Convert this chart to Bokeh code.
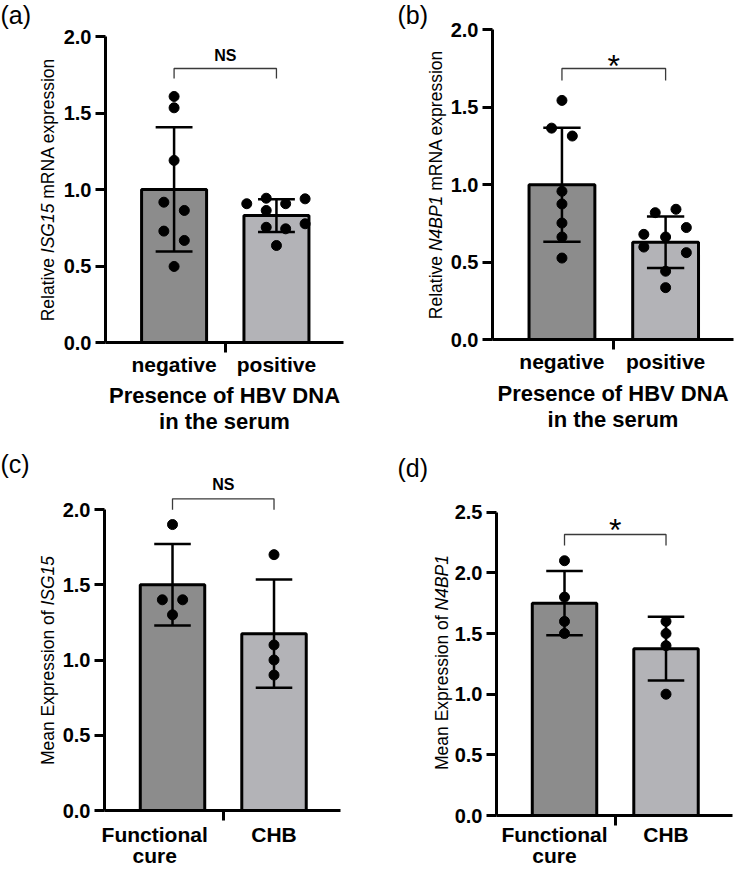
import numpy as np
from bokeh.plotting import figure
from bokeh.models import Range1d, FixedTicker, Label, NumeralTickFormatter, LinearAxis
from bokeh.layouts import column, row
from bokeh.embed import file_html
from bokeh.resources import INLINE

FONT = "Liberation Sans"

# ---------------- data ----------------
a_groups = ["negative", "positive"]
a_neg = [1.608, 1.534, 1.190, 0.917, 0.863, 0.728, 0.667, 0.497]
a_pos = [0.907, 0.943, 0.907, 0.939, 0.863, 0.753, 0.743, 0.776, 0.634]

b_groups = ["negative", "positive"]
b_neg = [1.544, 1.365, 1.314, 0.957, 0.875, 0.752, 0.662, 0.526]
b_pos = [0.819, 0.841, 0.723, 0.679, 0.662, 0.597, 0.561, 0.441, 0.335]

c_groups = ["Functional\ncure", "CHB"]
c_fc = [1.9, 1.4, 1.4, 1.3]
c_chb = [1.7, 1.1, 1.0, 0.9]

d_groups = ["Functional\ncure", "CHB"]
d_fc = [2.1, 1.8, 1.6, 1.5]
d_chb = [1.6, 1.5, 1.4, 1.0]

significance = ["NS", "*", "NS", "*"]
yticks_abc = [0.0, 0.5, 1.0, 1.5, 2.0]
yticks_d = [0.0, 0.5, 1.0, 1.5, 2.0, 2.5]

# horizontal spread of the dots inside each bar (layout only)
a_neg_dx = [0, 0, 0, -0.1, 0.1, -0.1, 0.1, 0]
a_pos_dx = [-0.29, -0.1, 0.09, 0.28, -0.1, -0.1, 0.09, 0.28, 0]
b_neg_dx = [0, -0.1, 0.1, 0, 0, 0, 0, 0]
b_pos_dx = [-0.1, 0.1, 0.2, -0.21, 0, -0.21, 0.2, 0, 0]
c_fc_dx = [0, -0.1, 0.1, 0]
c_chb_dx = [0, 0, 0, 0]
d_fc_dx = [0, 0, 0, 0]
d_chb_dx = [0, 0, 0, 0]

BAR_COLORS = ["#8c8c8c", "#b3b3b7"]

# Arial / Liberation Sans advance widths (1/1000 em) for label layout
ARIAL = {' ': 278, 'R': 722, 'e': 556, 'l': 222, 'a': 556, 't': 278, 'i': 222,
         'v': 500, 'I': 278, 'S': 667, 'G': 778, '1': 556, '5': 556, 'm': 833,
         'N': 722, 'A': 667, 'x': 500, 'p': 556, 'r': 333, 's': 500, 'o': 556,
         'n': 556, 'M': 833, 'E': 667, 'f': 278, '4': 556, 'B': 667, 'P': 667}


def tw(s, size):
    return sum(ARIAL.get(ch, 556) for ch in s) * size / 1000.0


def make_panel(S):
    W, H = S["W"], S["H"]
    fl, fr, fb = S["fl"], S["fr"], S["fb"]
    x0, x1 = 0.33, 2.655
    ppx = (fr - fl) / (x1 - x0)
    ppy = (fb - S["ytop_px"]) / S["ytop"]

    def sx(px):
        return x0 + (px - fl) / ppx

    def sy(py):
        return (fb - py) / ppy

    p = figure(width=W, height=H,
               x_range=Range1d(sx(0), sx(W)), y_range=Range1d(sy(H), sy(0)),
               x_axis_type=None, y_axis_type=None,
               output_backend="svg", toolbar_location=None,
               min_border_left=0, min_border_right=0,
               min_border_top=0, min_border_bottom=0)
    p.outline_line_color = None
    p.background_fill_color = "white"
    p.border_fill_color = "white"

    xs = np.array([1.0, 2.0])
    vals = [np.array(v, dtype=float) for v in S["vals"]]
    means = np.array([v.mean() for v in vals])
    sds = np.array([v.std(ddof=1) for v in vals])

    p.vbar(x=xs, top=means, width=0.635, fill_color=BAR_COLORS,
           line_color="black", line_width=3)
    p.segment(x0=xs, y0=means - sds, x1=xs, y1=means + sds,
              line_color="black", line_width=2.5)
    cap = 0.18
    ends = np.concatenate([means - sds, means + sds])
    cx = np.concatenate([xs, xs])
    p.segment(x0=cx - cap, y0=ends, x1=cx + cap, y1=ends,
              line_color="black", line_width=2.5)
    for i in range(2):
        p.scatter(x=xs[i] + np.array(S["dx"][i]), y=vals[i], size=10,
                  color="black")

    # significance bracket
    by = sy(S["br_px"])
    bd = sy(S["br_px"] + S["br_drop"])
    p.line(x=[xs[0], xs[0], xs[1], xs[1]], y=[bd, by, by, bd],
           line_color="#3a3a3a", line_width=1.3)
    sig = S["sig"]
    if sig == "*":
        p.add_layout(Label(x=xs.mean(), y=sy(S["sig_px"]), text=sig,
                           text_align="center", text_baseline="alphabetic",
                           text_font=FONT, text_font_size="32px",
                           text_color="black"))
    else:
        p.add_layout(Label(x=xs.mean(), y=sy(S["sig_px"]), text=sig,
                           text_align="center", text_baseline="alphabetic",
                           text_font=FONT, text_font_size="16px",
                           text_font_style="bold", text_color="black"))

    # panel letter
    p.add_layout(Label(x=sx(S["let_x"]), y=sy(S["let_y"]), text=S["letter"],
                       text_align="left", text_baseline="alphabetic",
                       text_font=FONT, text_font_size="25px", text_color="black"))

    # y axis (drawn at a fixed data location)
    yax = LinearAxis(fixed_location=x0)
    yax.ticker = FixedTicker(ticks=S["yticks"])
    yax.formatter = NumeralTickFormatter(format="0.0")
    yax.bounds = (0, S["ytop"])
    yax.axis_line_width = 3
    yax.axis_line_color = "black"
    yax.major_tick_line_width = 3
    yax.major_tick_line_color = "black"
    yax.major_tick_out = 10
    yax.major_tick_in = 0
    yax.minor_tick_line_color = None
    yax.major_label_text_font = FONT
    yax.major_label_text_font_size = "20px"
    yax.major_label_text_font_style = "bold"
    yax.major_label_text_color = "black"
    yax.major_label_standoff = 4
    p.add_layout(yax, "left")

    # y-axis title with italic gene name (rotated pieces)
    fs = 17.5
    pieces = S["ylab"]
    total = sum(tw(t, fs) for t, _ in pieces) + tw(" ", fs) * (len(pieces) - 1)
    start = S["ylab_cy"] + total / 2.0
    cum = 0.0
    for t, style in pieces:
        p.add_layout(Label(x=sx(S["ylab_x"]), y=sy(start - cum), text=t,
                           angle=np.pi / 2, text_align="left",
                           text_baseline="middle", text_font=FONT,
                           text_font_size="%.1fpx" % fs, text_font_style=style,
                           text_color="black"))
        cum += tw(t, fs) + tw(" ", fs)

    # x axis (drawn at y = 0)
    xax = LinearAxis(fixed_location=0)
    lt = [float(xs[0] + S["lab_shift"]), float(xs[1])]
    xax.ticker = FixedTicker(ticks=lt, minor_ticks=[1.5])
    xax.major_label_overrides = {lt[0]: S["groups"][0], lt[1]: S["groups"][1]}
    xax.bounds = (x0, x1)
    xax.axis_line_width = 3
    xax.axis_line_color = "black"
    xax.major_tick_out = 0
    xax.major_tick_in = 0
    xax.major_tick_line_color = None
    xax.minor_tick_out = 10
    xax.minor_tick_in = 0
    xax.minor_tick_line_width = 3
    xax.minor_tick_line_color = "black"
    xax.major_label_text_font = FONT
    xax.major_label_text_font_size = "21px"
    xax.major_label_text_font_style = "bold"
    xax.major_label_text_color = "black"
    xax.major_label_text_line_height = 0.95
    xax.major_label_standoff = S["xlab_standoff"]
    p.add_layout(xax, "below")

    # x-axis title
    if S["xtitle"]:
        for k, line in enumerate(S["xtitle"]):
            p.add_layout(Label(x=(x0 + x1) / 2.0, y=sy(S["xt_base"] + 26 * k),
                               text=line, text_align="center",
                               text_baseline="alphabetic", text_font=FONT,
                               text_font_size="22px", text_font_style="bold",
                               text_color="black"))
    return p


specs = [
    dict(W=370, H=440, fl=105, fr=343, fb=342, ytop=2.0, ytop_px=36,
         yticks=yticks_abc, groups=a_groups, vals=[a_neg, a_pos],
         dx=[a_neg_dx, a_pos_dx], sig=significance[0], br_px=68, br_drop=10,
         sig_px=54.5, letter="(a)", let_x=0, let_y=14,
         ylab=[("Relative", "normal"), ("ISG15", "italic"),
               ("mRNA expression", "normal")],
         ylab_x=47, ylab_cy=189, lab_shift=0.0, xlab_standoff=0,
         xtitle=["Presence of HBV DNA", "in the serum"], xt_base=394.5),
    dict(W=365, H=440, fl=122, fr=363, fb=339, ytop=2.0, ytop_px=29.3,
         yticks=yticks_abc, groups=b_groups, vals=[b_neg, b_pos],
         dx=[b_neg_dx, b_pos_dx], sig=significance[1], br_px=68, br_drop=12,
         sig_px=65, letter="(b)", let_x=27, let_y=14,
         ylab=[("Relative", "normal"), ("N4BP1", "italic"),
               ("mRNA expression", "normal")],
         ylab_x=65, ylab_cy=184, lab_shift=0.0, xlab_standoff=0,
         xtitle=["Presence of HBV DNA", "in the serum"], xt_base=393),
    dict(W=370, H=429, fl=104, fr=340, fb=370, ytop=2.0, ytop_px=69,
         yticks=yticks_abc, groups=c_groups, vals=[c_fc, c_chb],
         dx=[c_fc_dx, c_chb_dx], sig=significance[2], br_px=58.3, br_drop=11,
         sig_px=44, letter="(c)", let_x=0, let_y=23.7,
         ylab=[("Mean Expression of", "normal"), ("ISG15", "italic")],
         ylab_x=47, ylab_cy=220, lab_shift=-0.176, xlab_standoff=2,
         xtitle=None),
    dict(W=365, H=429, fl=126, fr=362, fb=375, ytop=2.5, ytop_px=71.7,
         yticks=yticks_d, groups=d_groups, vals=[d_fc, d_chb],
         dx=[d_fc_dx, d_chb_dx], sig=significance[3], br_px=94, br_drop=11,
         sig_px=89.5, letter="(d)", let_x=27, let_y=27,
         ylab=[("Mean Expression of", "normal"), ("N4BP1", "italic")],
         ylab_x=71, ylab_cy=222, lab_shift=-0.099, xlab_standoff=-3,
         xtitle=None),
]

panels = [make_panel(s) for s in specs]
layout = column(row(panels[0], panels[1]), row(panels[2], panels[3]))

open("out.html", "w").write(file_html(layout, INLINE))
